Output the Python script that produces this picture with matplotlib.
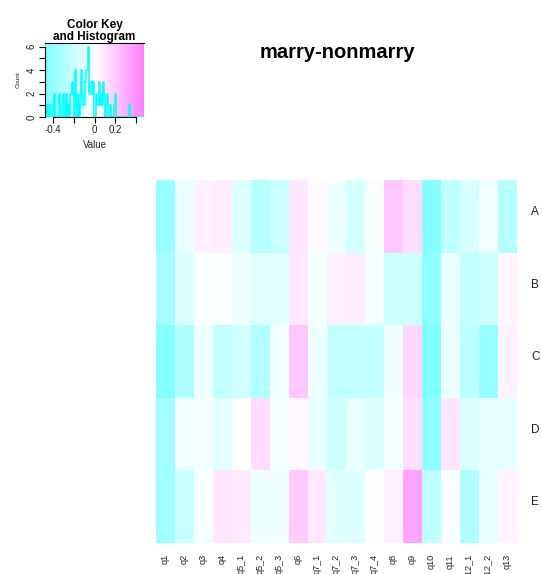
import numpy as np
import matplotlib
matplotlib.use('Agg')
import matplotlib.pyplot as plt
from matplotlib.colors import LinearSegmentedColormap

plt.rcParams['font.family'] = ['Liberation Sans', 'DejaVu Sans']

questions = ['q1', 'q2', 'q3', 'q4', 'q5_1', 'q5_2', 'q5_3', 'q6', 'q7_1', 'q7_2',
             'q7_3', 'q7_4', 'q8', 'q9', 'q10', 'q11', 'q12_1', 'q12_2', 'q13']
groups = ['A', 'B', 'C', 'D', 'E']

# values (difference marry - nonmarry)
row_a = [-0.39, -0.08, 0.06, 0.07, -0.13, -0.27, -0.21, 0.095, 0.02, -0.065,
         -0.16, -0.03, 0.21, 0.13, -0.45, -0.24, -0.155, -0.06, -0.27]
row_b = [-0.33, -0.13, -0.02, -0.015, -0.07, -0.11, -0.12, 0.087, -0.06, 0.057,
         0.07, -0.045, -0.19, -0.185, -0.42, -0.08, -0.22, -0.19, 0.034]
row_c = [-0.46, -0.30, -0.07, -0.22, -0.18, -0.295, -0.055, 0.21, -0.068, -0.225,
         -0.23, -0.22, -0.062, 0.155, -0.48, -0.072, -0.25, -0.39, 0.05]
row_d = [-0.34, -0.057, -0.035, -0.10, -0.01, 0.13, -0.04, 0.027, -0.085, -0.19,
         -0.078, -0.13, -0.045, 0.12, -0.43, 0.10, -0.135, -0.093, -0.095]
row_e = [-0.345, -0.21, -0.03, 0.10, 0.08, -0.066, -0.063, 0.20, 0.087, -0.12,
         -0.13, -0.01, 0.057, 0.345, -0.24, -0.02, -0.30, -0.092, 0.042]

mat = np.array([row_a, row_b, row_c, row_d, row_e])
lim = np.abs(mat).max()  # symmetric key like heatmap.2

# half-transparent cyan -> white -> half-transparent magenta
cmap = LinearSegmentedColormap.from_list('cwm', [(0.5, 1, 1), (1, 1, 1), (1, 0.5, 1)], N=256)

W, H = 542, 574
fig = plt.figure(figsize=(W / 100, H / 100), dpi=100)

def box(x0, y0, x1, y1):
    return [x0 / W, 1 - y1 / H, (x1 - x0) / W, (y1 - y0) / H]

# main heatmap
ax = fig.add_axes(box(156, 180, 517, 543))
ax.pcolormesh(np.arange(len(questions) + 1), np.arange(len(groups) + 1), mat,
              cmap=cmap, vmin=-lim, vmax=lim)
ax.set_xlim(0, len(questions))
ax.set_ylim(len(groups), 0)
for s in ax.spines.values():
    s.set_visible(False)
ax.set_xticks(np.arange(len(questions)) + 0.5)
ax.set_xticklabels(questions, rotation=90, fontsize=6.5, color='#222222')
ax.tick_params(axis='x', length=0, pad=8)
ax.yaxis.tick_right()
ax.set_yticks(np.arange(len(groups)) + 0.42)
ax.set_yticklabels(groups, fontsize=8.5, color='#222222')
ax.tick_params(axis='y', length=0, pad=10)

fig.text(337 / W, 1 - 53 / H, 'marry-nonmarry', ha='center', va='center',
         fontsize=14.5, fontweight='bold')

# colour key with histogram
kx = fig.add_axes(box(45, 43, 144, 117))
kx.imshow(np.linspace(-lim, lim, 256)[None, :], cmap=cmap, vmin=-lim, vmax=lim,
          extent=[-lim, lim, 0, 1], aspect='auto')
edges = np.linspace(-lim, lim, 101)
counts, _ = np.histogram(mat.ravel(), bins=edges)
top = counts.max()
hy = np.append(counts, counts[-1]) / top * 0.95
kx.step(edges, hy, where='post', color='cyan', lw=1.1)
kx.set_xlim(-lim, lim)
kx.set_ylim(0, 1)
kx.spines['right'].set_visible(False)
kx.spines['left'].set_bounds(0, 0.95)
kx.spines['bottom'].set_bounds(-0.4, 0.4)
kx.set_xticks([-0.4, -0.2, 0, 0.2, 0.4])
kx.set_xticklabels(['-0.4', '', '0', '0.2', ''], fontsize=7, color='#222222')
yt = np.arange(0, top + 1)
kx.set_yticks(yt / top * 0.95)
kx.set_yticklabels([str(v) if v % 2 == 0 else '' for v in yt], fontsize=7,
                   rotation=90, va='center', color='#222222')
kx.tick_params(length=4, width=0.8, pad=2)
kx.set_xlabel('Value', fontsize=7, labelpad=3, color='#222222')
kx.set_ylabel('Count', fontsize=4.5, labelpad=4, color='#222222')
kx.set_title('Color Key\nand Histogram', fontsize=8.5, fontweight='bold',
             linespacing=1.0, pad=1)

fig.savefig('out.png', dpi=100)
